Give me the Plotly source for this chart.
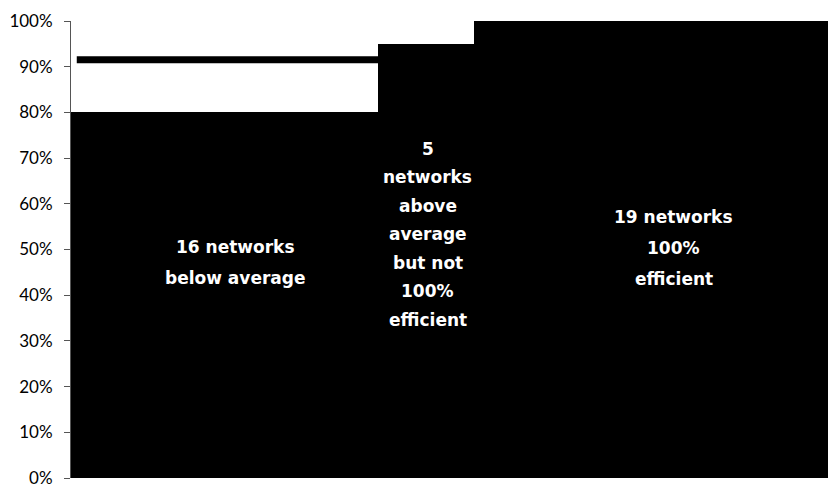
import plotly.graph_objects as go

# Data
groups = ["below average", "above average, not 100% efficient", "100% efficient"]
network_counts = [16, 5, 19]
efficiency = [0.80, 0.95, 1.00]
average_efficiency = 0.915
group_labels = [
    ["16 networks", "below average"],
    ["5", "networks", "above", "average", "but not", "100%", "efficient"],
    ["19 networks", "100%", "efficient"],
]
label_y = [0.472, 0.533, 0.504]
label_x_offset = [0.55, 0.08, 0.9]
y_ticks = [i / 10 for i in range(11)]
x_visible_max = 39.45  # right edge of the picture cuts the last bar

# Derived positions from counts
starts = []
acc = 0
for c in network_counts:
    starts.append(acc)
    acc += c
centers = [s + c / 2 for s, c in zip(starts, network_counts)]

fig = go.Figure()
fig.add_trace(go.Bar(
    x=centers, y=efficiency, width=network_counts,
    marker=dict(color="black", line=dict(width=0)),
    hoverinfo="skip", showlegend=False,
))
fig.add_trace(go.Scatter(
    x=[0.3, starts[1]], y=[average_efficiency, average_efficiency],
    mode="lines", line=dict(color="black", width=7),
    hoverinfo="skip", showlegend=False,
))

tick_font = "Lato, 'Open Sans', sans-serif"
label_font = "'DejaVu Sans', sans-serif"
line_spacing = [31, 28.5, 31]
annotations = []
for cx, off, lines, yc, lp in zip(centers, label_x_offset, group_labels, label_y, line_spacing):
    n = len(lines)
    for i, t in enumerate(lines):
        shift = ((n - 1) / 2 - i) * lp
        annotations.append(dict(
            x=cx + off, y=yc, xref="x", yref="y", text=t, showarrow=False,
            yshift=shift,
            font=dict(family=label_font, size=17, color="white", weight="bold"),
            xanchor="center", yanchor="middle",
        ))

fig.update_layout(
    width=828, height=488,
    margin=dict(l=71, r=0, t=21, b=10),
    paper_bgcolor="white", plot_bgcolor="white",
    bargap=0,
    annotations=annotations,
    xaxis=dict(range=[0, x_visible_max], showticklabels=False, showgrid=False,
               zeroline=False, showline=False, ticks=""),
    yaxis=dict(range=[0, 1.0], tickvals=y_ticks, tickformat=".0%",
               showgrid=False, zeroline=False, showline=True,
               linecolor="#555", linewidth=1,
               ticks="outside", ticklen=6, tickcolor="#555",
               ticklabelstandoff=8,
               tickfont=dict(family=tick_font, size=17, color="black")),
)

fig.write_html("out.html")
